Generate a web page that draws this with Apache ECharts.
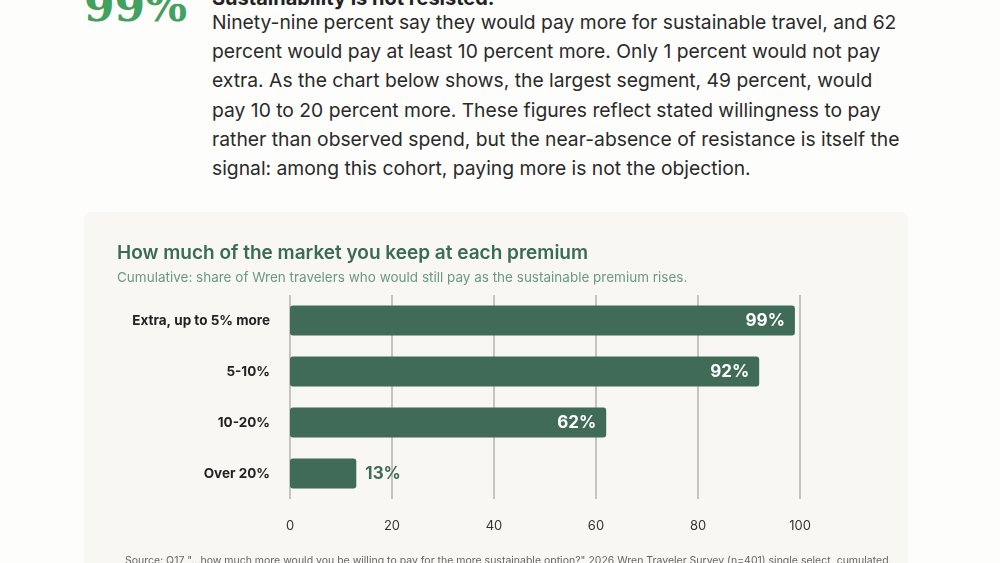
<!DOCTYPE html>
<html><head><meta charset="utf-8">
<script src="https://cdn.jsdelivr.net/npm/echarts@6/dist/echarts.min.js"></script>
<style>
body{margin:0;width:1000px;height:563px;overflow:hidden;background:#fdfdfc;font-family:Inter,sans-serif;position:relative}
.big{position:absolute;left:84px;top:-20px;font-family:"DejaVu Serif",serif;font-weight:bold;font-size:44px;color:#44a05f}
.head{position:absolute;left:212px;top:-14px;font-weight:700;font-size:20px;color:#222}
.para{position:absolute;left:212px;top:8px;width:690px;font-size:19.3px;line-height:29.2px;color:#2a2a2a}
#card{position:absolute;left:84px;top:212px;width:824px;height:360px;background:#f8f7f4;border-radius:8px}
</style></head><body>
<div class="big">99%</div>
<div class="head">Sustainability is not resisted.</div>
<div class="para">Ninety-nine percent say they would pay more for sustainable travel, and 62 percent would pay at least 10 percent more. Only 1 percent would not pay extra. As the chart below shows, the largest segment, 49 percent, would pay 10 to 20 percent more. These figures reflect stated willingness to pay rather than observed spend, but the near-absence of resistance is itself the signal: among this cohort, paying more is not the objection.</div>
<div id="card"></div>
<script>
// 数据
var categories = ['Extra, up to 5% more', '5-10%', '10-20%', 'Over 20%'];
var values = [99, 92, 62, 13];
var ticks = [0, 20, 40, 60, 80, 100];

var myChart = echarts.init(document.getElementById('card'));
var option = {
	title: {
		text: 'How much of the market you keep at each premium',
		subtext: 'Cumulative: share of Wren travelers who would still pay as the sustainable premium rises.',
		left: 28, top: 27, itemGap: 8,
		textStyle: {color: '#3a6b55', fontSize: 19, fontWeight: 600, fontFamily: 'Inter'},
		subtextStyle: {color: '#6a9a80', fontSize: 13.5, fontFamily: 'Inter'}
	},
	grid: {left: 206, right: 108, top: 83, bottom: 73},
	xAxis: {
		type: 'value', min: ticks[0], max: ticks[ticks.length - 1], interval: 20,
		axisLine: {show: false}, axisTick: {show: false},
		splitLine: {lineStyle: {color: '#c4c4c0', width: 2}},
		axisLabel: {color: '#333', fontSize: 13, margin: 21, fontFamily: 'Inter'}
	},
	yAxis: {
		type: 'category', inverse: true, data: categories,
		axisLine: {show: false}, axisTick: {show: false},
		axisLabel: {color: '#222', fontSize: 13.5, fontWeight: 'bold', margin: 20, fontFamily: 'Inter'}
	},
	series: [{
		type: 'bar', barWidth: 30,
		data: values.map(function(v) {
			var small = v < 30;
			return {
				value: v,
				label: {
					show: true,
					position: small ? 'right' : 'insideRight',
					distance: small ? 9 : 10,
					color: small ? '#3f6b57' : '#fff',
					fontSize: 17, fontWeight: 'bold', fontFamily: 'Inter',
					formatter: '{c}%'
				}
			};
		}),
		itemStyle: {color: '#3f6b57', borderRadius: 3}
	}],
	graphic: [{
		type: 'text', left: 41, top: 343,
		style: {text: 'Source: Q17 "...how much more would you be willing to pay for the more sustainable option?" 2026 Wren Traveler Survey (n=401) single select, cumulated.', fill: '#666', fontSize: 10.5, fontFamily: 'Inter'}
	}]
};
myChart.setOption(option);
</script>
</body></html>
